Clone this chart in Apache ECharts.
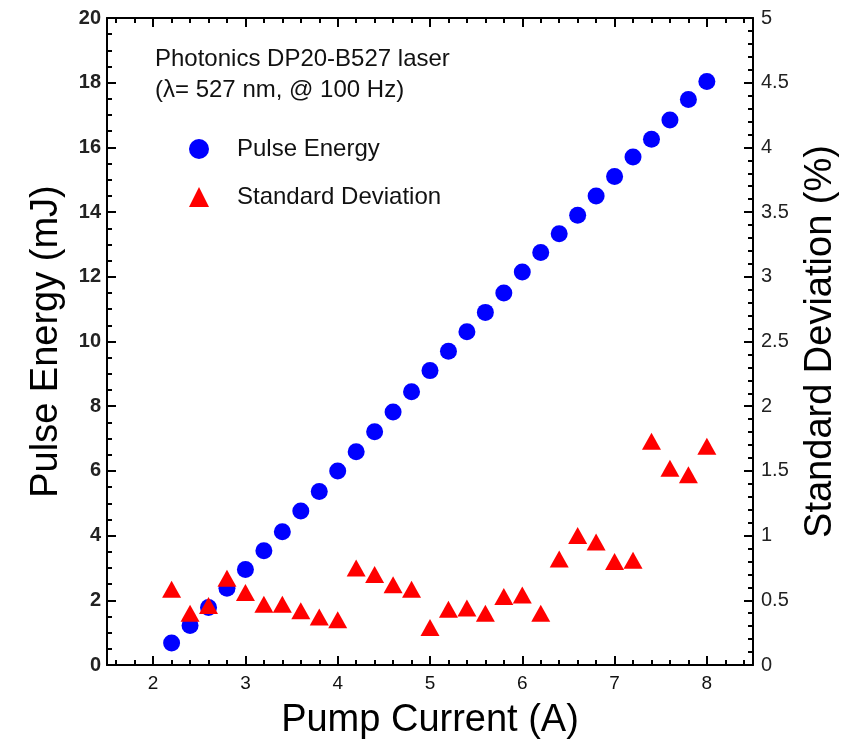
<!DOCTYPE html>
<html>
<head>
<meta charset="utf-8">
<script src="https://cdn.jsdelivr.net/npm/echarts@6/dist/echarts.min.js"></script>
<style>
html,body{margin:0;padding:0;background:#fff;}
#chart{width:844px;height:742px;}
</style>
</head>
<body>
<div id="chart"></div>
<script>
// ---- data ----
const pumpCurrent = [2.2,2.4,2.6,2.8,3.0,3.2,3.4,3.6,3.8,4.0,4.2,4.4,4.6,4.8,5.0,5.2,5.4,5.6,5.8,6.0,6.2,6.4,6.6,6.8,7.0,7.2,7.4,7.6,7.8,8.0];
const pulseEnergy = [0.68,1.22,1.78,2.37,2.95,3.53,4.12,4.76,5.36,6.0,6.59,7.21,7.82,8.45,9.1,9.7,10.3,10.9,11.5,12.15,12.75,13.33,13.9,14.5,15.1,15.7,16.25,16.85,17.48,18.04];
const stdDev = [0.585,0.40,0.46,0.67,0.56,0.47,0.47,0.42,0.37,0.35,0.75,0.70,0.62,0.585,0.29,0.43,0.44,0.40,0.53,0.54,0.40,0.82,1.00,0.95,0.80,0.81,1.73,1.52,1.47,1.69];
const xMajorTicks = [2,3,4,5,6,7,8];
const xMinorTicks = [1.6,1.8,2.2,2.4,2.6,2.8,3.2,3.4,3.6,3.8,4.2,4.4,4.6,4.8,5.2,5.4,5.6,5.8,6.2,6.4,6.6,6.8,7.2,7.4,7.6,7.8,8.2,8.4];
const titleLines = ['Photonics DP20-B527 laser','(\u03bb= 527 nm, @ 100 Hz)'];
const seriesNames = ['Pulse Energy','Standard Deviation'];

const FONT = '"Liberation Sans", Arial, Helvetica, sans-serif';
const black = '#000';

function xAxisDef(pos, major, withLine, withLabel) {
  return {
    type: 'value', min: 1.5, max: 8.5, position: pos,
    axisLine: { show: withLine, onZero: false, lineStyle: { color: black, width: 2 } },
    axisTick: { show: true, inside: true, length: major ? 9 : 5,
      customValues: major ? xMajorTicks : xMinorTicks,
      lineStyle: { color: black, width: 2 } },
    axisLabel: withLabel ? { show: true, customValues: xMajorTicks, fontSize: 19, color: '#111',
      fontFamily: FONT, margin: 9 } : { show: false },
    splitLine: { show: false },
    name: withLabel ? 'Pump Current (A)' : '',
    nameLocation: 'middle', nameGap: 37,
    nameTextStyle: { fontSize: 38, fontFamily: FONT, color: black }
  };
}

const chart = echarts.init(document.getElementById('chart'), null, { renderer: 'canvas' });
chart.setOption({
  backgroundColor: '#fff',
  animation: false,
  title: {
    text: titleLines.join('\n'),
    left: 150, top: 39,
    textStyle: { fontSize: 24, fontWeight: 'normal', color: '#111', fontFamily: FONT, lineHeight: 31 }
  },
  legend: {
    orient: 'vertical', left: 184, top: 132,
    itemWidth: 20, itemHeight: 20, itemGap: 24,
    data: [
      { name: seriesNames[0], icon: 'circle' },
      { name: seriesNames[1], icon: 'triangle' }
    ],
    textStyle: { fontSize: 24, color: '#111', fontFamily: FONT, padding: [0,0,0,23] }
  },
  grid: { left: 107, right: 91, top: 18, bottom: 77, containLabel: false, outerBoundsMode: 'none' },
  xAxis: [
    xAxisDef('bottom', true, true, true),
    xAxisDef('bottom', false, false, false),
    xAxisDef('top', true, true, false),
    xAxisDef('top', false, false, false)
  ],
  yAxis: [
    {
      type: 'value', min: 0, max: 20, interval: 2, position: 'left',
      axisLine: { show: true, onZero: false, lineStyle: { color: black, width: 2 } },
      axisTick: { show: true, inside: true, length: 9, lineStyle: { color: black, width: 2 } },
      minorTick: { show: true, splitNumber: 4, length: 5, lineStyle: { color: black, width: 2 } },
      axisLabel: { fontSize: 20, fontWeight: 'bold', color: '#222', fontFamily: FONT, margin: 6 },
      splitLine: { show: false },
      name: 'Pulse Energy (mJ)', nameLocation: 'middle', nameGap: 41,
      nameTextStyle: { fontSize: 38, fontFamily: FONT, color: black }
    },
    {
      type: 'value', min: 0, max: 5, interval: 0.5, position: 'right',
      axisLine: { show: true, onZero: false, lineStyle: { color: black, width: 2 } },
      axisTick: { show: true, inside: true, length: 9, lineStyle: { color: black, width: 2 } },
      minorTick: { show: true, splitNumber: 5, length: 5, lineStyle: { color: black, width: 2 } },
      axisLabel: { fontSize: 20, color: '#222', fontFamily: FONT, margin: 8 },
      splitLine: { show: false },
      name: 'Standard Deviation (%)', nameLocation: 'middle', nameGap: 49,
      nameTextStyle: { fontSize: 38, fontFamily: FONT, color: black }
    }
  ],
  series: [
    {
      name: seriesNames[0], type: 'scatter', xAxisIndex: 0, yAxisIndex: 0,
      symbol: 'circle', symbolSize: 17,
      itemStyle: { color: '#0000ff', opacity: 1 },
      data: pumpCurrent.map((x, i) => [x, pulseEnergy[i]]),
      z: 2
    },
    {
      name: seriesNames[1], type: 'scatter', xAxisIndex: 0, yAxisIndex: 1,
      symbol: 'triangle', symbolSize: [19, 17],
      itemStyle: { color: '#ff0000', opacity: 1 },
      data: pumpCurrent.map((x, i) => [x, stdDev[i]]),
      z: 3
    }
  ]
});
</script>
</body>
</html>
